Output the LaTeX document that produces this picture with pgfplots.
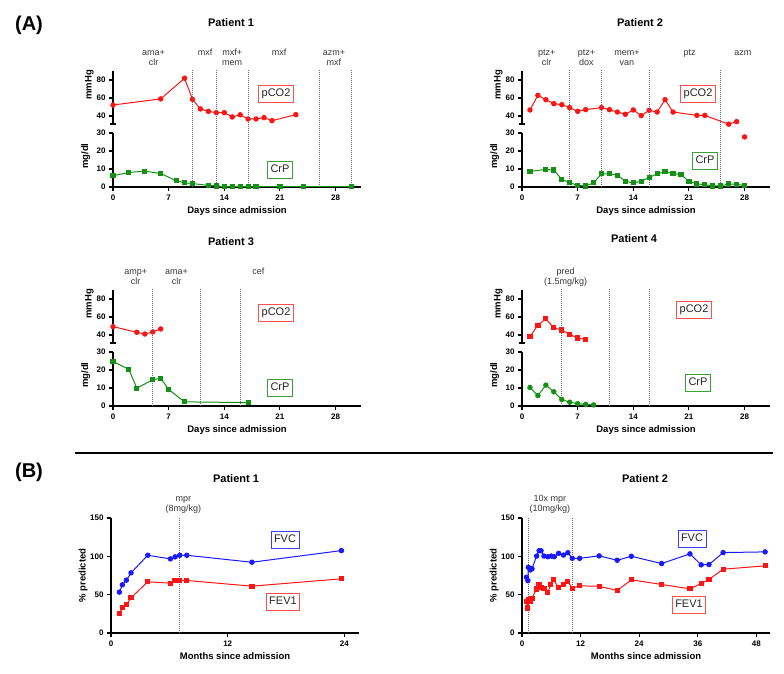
\documentclass[border=0pt]{standalone}
\usepackage{fontspec}
\setmainfont{Liberation Sans}
\usepackage{pgfplots}
\pgfplotsset{compat=1.18}
\definecolor{cred}{RGB}{255,20,20}
\definecolor{cgreen}{RGB}{20,145,20}
\definecolor{cblue}{RGB}{25,25,255}
\definecolor{anncol}{RGB}{55,55,55}

\pgfplotsset{
  base/.style={scale only axis, width=248pt,
    axis line style={line width=1.1pt},
    tick style={line width=1.1pt, black},
    major tick length=4pt, tick align=outside,
    tick label style={font=\fontsize{8}{9}\selectfont\bfseries},
    label style={font=\fontsize{9.5}{11}\selectfont\bfseries},
    /pgf/number format/assume math mode=true,
  },
  upper/.style={base, height=53pt, xmin=0, xmax=31.2, ymin=31.1, ymax=90,
    axis y line*=left, axis x line=none, ytick={40,60,80}, ylabel=mmHg,
    ylabel style={at={(axis description cs:-0.095,0.74)}, anchor=center},
    extra y ticks={31.1}, extra y tick labels={},
    extra y tick style={tick align=center, major tick length=6pt}},
  lower/.style={base, height=54pt, xmin=0, xmax=31.2, ymin=0, ymax=30,
    axis lines*=left, xtick={0,7,14,21,28}, ytick={0,10,20,30},
    ylabel=mg/dl, ylabel style={at={(axis description cs:-0.11,0.57)}, anchor=center},
    xlabel=Days since admission, clip=false},
  lowerB/.style={base, height=115pt, ymin=0, ymax=150, ytick={0,50,100,150},
    axis lines*=left, ylabel={\% predicted},
    ylabel style={at={(axis description cs:-0.112,0.5)}, anchor=center},
    xlabel=Months since admission, clip=false},
  redc/.style={color=cred, line width=1pt, mark=*, mark size=2.2pt},
  reds/.style={color=cred, line width=1pt, mark=square*, mark size=2.1pt},
  greens/.style={color=cgreen, line width=1pt, mark=square*, mark size=2.1pt},
  greenc/.style={color=cgreen, line width=1pt, mark=*, mark size=2.2pt},
  bluec/.style={color=cblue, line width=1pt, mark=*, mark size=2.2pt},
}
\tikzset{
  vdot/.style={line width=0.75pt, dash pattern=on 0.75pt off 1.25pt, black!60},
  ann/.style={anchor=base, inner sep=0pt, text=anncol, font=\fontsize{9}{10}\selectfont},
  leg/.style={draw, line width=1pt, inner xsep=3pt, inner ysep=3pt, text height=8pt,
    text depth=2.3pt, text=black!85, font=\fontsize{11}{13}\selectfont},
  ttl/.style={font=\fontsize{11}{13}\selectfont\bfseries},
}
\newcommand\annA[3]{\node[ann] at (axis cs:#1,73.3) {#2};\node[ann] at (axis cs:#1,67.7) {#3};}

\begin{document}
\begin{tikzpicture}
\path[use as bounding box] (0pt,0pt) rectangle (784pt,-674pt);

% ---------- (A) Patient 1
\begin{axis}[upper, at={(113pt,-124pt)}, anchor=south west]
\addplot[redc] coordinates {(0,52.2)(6,59)(9,82)(10,58.5)(11,47.8)(12,45.2)(13,43.7)(14,43.7)
  (15,38.9)(16,41.3)(17,36.7)(18,36.7)(19,38.2)(20,34.8)(23,41.5)};
\end{axis}
\begin{axis}[lower, at={(113pt,-187pt)}, anchor=south west]
\draw[vdot] (axis cs:10,0) -- (axis cs:10,65);
\draw[vdot] (axis cs:13,0) -- (axis cs:13,65);
\draw[vdot] (axis cs:17,0) -- (axis cs:17,65);
\draw[vdot] (axis cs:26,0) -- (axis cs:26,65);
\draw[vdot] (axis cs:30,0) -- (axis cs:30,65);
\addplot[greens] coordinates {(0,6.2)(2,8.1)(4,8.8)(6,7.5)(8,3.4)(9,2.4)(10,1.9)(12,0.9)(13,0.6)
  (14,0.2)(15,0.2)(16,0.2)(17,0.2)(18,0.2)(21,0.2)(24,0.2)(30,0.2)};
\annA{5.1}{ama+}{clr}
\annA{11.6}{mxf}{}
\annA{15}{mxf+}{mem}
\annA{20.9}{mxf}{}
\annA{27.8}{azm+}{mxf}
\end{axis}

% ---------- (A) Patient 2
\begin{axis}[upper, at={(522pt,-124pt)}, anchor=south west, clip=false]
\addplot[redc] coordinates {(1,46.7)(2,63)(3,58.1)(4,53.7)(5,52.6)(6,49.3)(7,45.2)(8,47)(10,49.3)
  (11,47)(12,44.4)(13,41.9)(14,46.7)(15,40.4)(16,46.3)(17,44.4)(18,58.1)(19,44.4)(22,40.7)
  (23,40.7)(26,30.9)(27,33.7)};
% last value lies below the axis range and is shown as a lone marker
\addplot[redc, only marks] coordinates {(28,16.7)};
\end{axis}
\begin{axis}[lower, at={(522pt,-187pt)}, anchor=south west]
\draw[vdot] (axis cs:6,0) -- (axis cs:6,65);
\draw[vdot] (axis cs:10,0) -- (axis cs:10,65);
\draw[vdot] (axis cs:16,0) -- (axis cs:16,65);
\draw[vdot] (axis cs:25,0) -- (axis cs:25,65);
\addplot[greens] coordinates {(1,8.6)(3,9.8)(4,9.4)(5,4.3)(6,2.4)(7,0.9)(8,0.6)(9,2.3)(10,7.3)
  (11,7.3)(12,6.6)(13,3.2)(14,2.3)(15,3.2)(16,5.3)(17,7.3)(18,8.4)(19,7.5)(20,6.9)(21,3.2)
  (22,1.7)(23,1.3)(24,0.6)(25,0.6)(26,1.7)(27,1.5)(28,0.8)};
\annA{3.1}{ptz+}{clr}
\annA{8.1}{ptz+}{dox}
\annA{13.2}{mem+}{van}
\annA{21.1}{ptz}{}
\annA{27.8}{azm}{}
\end{axis}

% ---------- (A) Patient 3
\begin{axis}[upper, at={(113pt,-343pt)}, anchor=south west]
\addplot[redc] coordinates {(0,49.3)(3,43)(4,41.1)(5,43.4)(6,46.7)};
\end{axis}
\begin{axis}[lower, at={(113pt,-406pt)}, anchor=south west]
\draw[vdot] (axis cs:5,0) -- (axis cs:5,65);
\draw[vdot] (axis cs:11,0) -- (axis cs:11,65);
\draw[vdot] (axis cs:16,0) -- (axis cs:16,65);
\addplot[greens] coordinates {(0,24.8)(2,20.3)(3,9.9)(5,14.6)(6,15.4)(7,9.2)(9,2.3)(17,1.9)};
\annA{2.85}{amp+}{clr}
\annA{8}{ama+}{clr}
\annA{18.3}{cef}{}
\end{axis}

% ---------- (A) Patient 4
\begin{axis}[upper, at={(522pt,-343pt)}, anchor=south west]
\addplot[reds] coordinates {(1,38.1)(2,50.8)(3,58)(4,47.9)(5,45.6)(6,40.7)(7,36.6)(8,35.1)};
\end{axis}
\begin{axis}[lower, at={(522pt,-406pt)}, anchor=south west]
\draw[vdot] (axis cs:5,0) -- (axis cs:5,65);
\draw[vdot] (axis cs:11,0) -- (axis cs:11,65);
\draw[vdot] (axis cs:16,0) -- (axis cs:16,65);
\addplot[greenc] coordinates {(1,10.3)(2,5.8)(3,11.6)(4,7.9)(5,3.6)(6,2.1)(7,1.3)(8,0.9)(9,0.6)};
\annA{5.5}{pred}{(1.5mg/kg)}
\end{axis}

% ---------- (B) Patient 1
\begin{axis}[lowerB, at={(111pt,-633pt)}, anchor=south west, xmin=0, xmax=25.5, xtick={0,12,24}]
\draw[vdot] (axis cs:7.05,0) -- (axis cs:7.05,150);
\addplot[bluec] coordinates {(0.86,53.3)(1.17,62.9)(1.58,68.9)(2.06,78.5)(3.78,101.4)(6.11,96.7)
  (6.59,99.3)(7.07,101.4)(7.79,101.4)(14.49,92.3)(23.69,107.5)};
\addplot[reds] coordinates {(0.86,25.6)(1.17,32.9)(1.58,36.8)(2.06,45.9)(3.78,66.8)(6.11,65)
  (6.59,68)(7.07,68.5)(7.79,68.5)(14.49,61.1)(23.69,70.7)};
\node[ann] at (axis cs:7.45,172) {mpr};
\node[ann] at (axis cs:7.45,158) {(8mg/kg)};
\end{axis}

% ---------- (B) Patient 2
\begin{axis}[lowerB, at={(522pt,-633pt)}, anchor=south west, xmin=0, xmax=50.8, xtick={0,12,24,36,48}]
\draw[vdot] (axis cs:1.23,0) -- (axis cs:1.23,150);
\draw[vdot] (axis cs:10.3,0) -- (axis cs:10.3,150);
\addplot[bluec] coordinates {(0.9,72.7)(1.2,68.3)(1.3,85.7)(1.7,82.2)(2.05,83.9)(3.0,100.4)
  (3.5,107.3)(3.9,107.3)(4.5,100.4)(5.3,99.5)(6.0,100.4)(6.6,99.5)(7.5,103.9)(8.5,101.7)
  (9.4,104.7)(10.3,97.4)(11.8,97.4)(15.8,100.6)(19.5,94.9)(22.4,100.1)(28.6,90.6)(34.4,103.2)
  (36.7,88.9)(38.3,89.3)(41.2,104.9)(49.8,105.8)};
\addplot[reds] coordinates {(0.9,41)(1.2,32.5)(1.35,44)(1.75,41.5)(2.05,45.5)(3.0,57.5)(3.5,62.5)
  (3.9,59)(4.5,58.5)(5.3,53)(5.9,63.5)(6.4,69.5)(7.5,59.5)(8.5,63.5)(9.4,67)(10.3,58.5)
  (11.8,61.5)(15.8,61)(19.5,55.5)(22.4,69.4)(28.6,63.3)(34.4,57.6)(36.7,64.6)(38.3,69.8)
  (41.2,83.2)(49.8,87.6)};
\node[ann] at (axis cs:5.7,172) {10x mpr};
\node[ann] at (axis cs:5.7,158) {(10mg/kg)};
\end{axis}

% ---------- titles, panel letters, boxes
\node[font=\fontsize{20}{22}\selectfont\bfseries] at (29pt,-25pt) {(A)};
\node[font=\fontsize{20}{22}\selectfont\bfseries] at (29pt,-472pt) {(B)};
\draw[line width=2pt] (75pt,-453pt) -- (773pt,-453pt);
\node[ttl] at (231pt,-23pt) {Patient 1};
\node[ttl] at (640pt,-23pt) {Patient 2};
\node[ttl] at (231pt,-242pt) {Patient 3};
\node[ttl] at (634pt,-239pt) {Patient 4};
\node[ttl] at (236pt,-479pt) {Patient 1};
\node[ttl] at (645pt,-479pt) {Patient 2};
\node[leg, draw=cred!75] at (276pt,-94pt) {pCO2};
\node[leg, draw=cgreen!85] at (280pt,-170pt) {CrP};
\node[leg, draw=cred!75] at (698pt,-94pt) {pCO2};
\node[leg, draw=cgreen!85] at (705pt,-161pt) {CrP};
\node[leg, draw=cred!75] at (276pt,-313pt) {pCO2};
\node[leg, draw=cgreen!85] at (280pt,-388pt) {CrP};
\node[leg, draw=cred!75] at (694pt,-310pt) {pCO2};
\node[leg, draw=cgreen!85] at (698pt,-383pt) {CrP};
\node[leg, draw=cblue!85] at (285pt,-540pt) {FVC};
\node[leg, draw=cred!75] at (283pt,-602pt) {FEV1};
\node[leg, draw=cblue!85] at (692pt,-539pt) {FVC};
\node[leg, draw=cred!75] at (689pt,-605pt) {FEV1};
\end{tikzpicture}
\end{document}
